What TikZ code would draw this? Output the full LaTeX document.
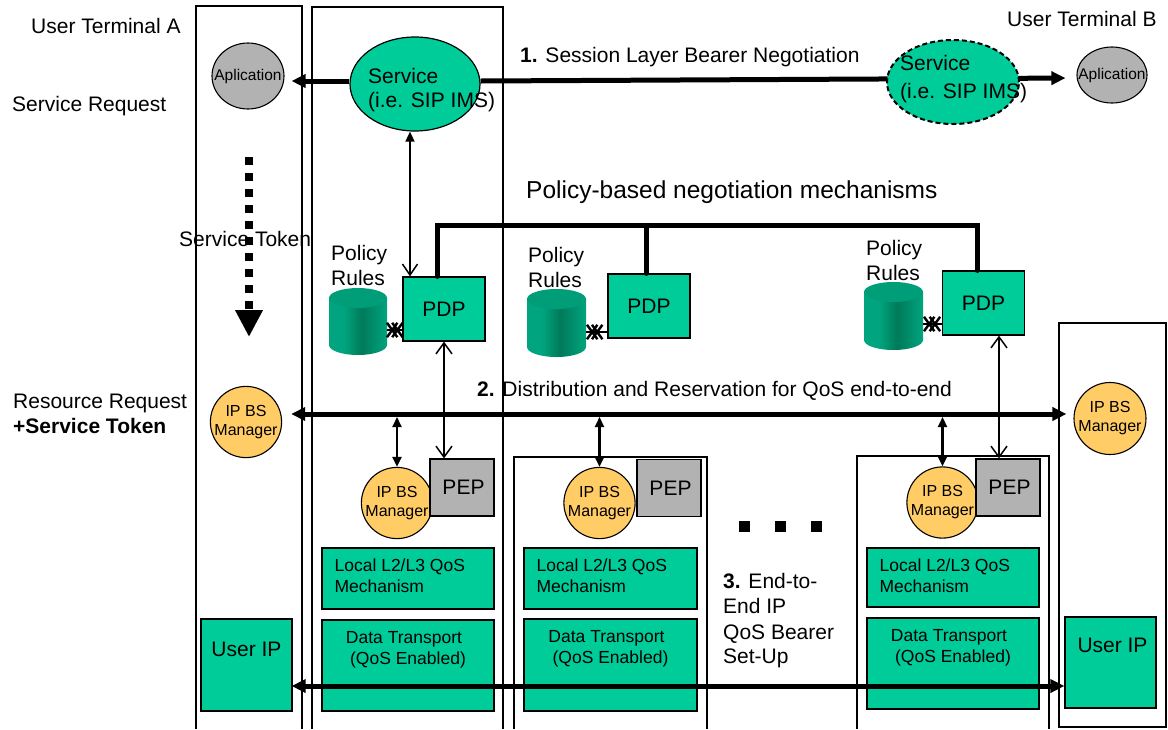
\documentclass[tikz,border=0pt]{standalone}
\usepackage{fontspec}
\setmainfont{Liberation Sans}
\usetikzlibrary{arrows.meta,shapes.geometric,shapes.misc,calc,backgrounds}

\definecolor{qgreen}{HTML}{00CC99}
\definecolor{qgray}{HTML}{B2B2B2}
\definecolor{qorange}{HTML}{FFCC66}
\definecolor{dbtop}{HTML}{009E78}
\definecolor{dblight}{HTML}{00A47E}
\definecolor{dbdark}{HTML}{007A5A}

% body of the policy database cylinders (dark band right of the middle)
\pgfdeclarehorizontalshading{dbbody}{100bp}{color(0bp)=(dblight); color(25bp)=(dblight);
  color(38bp)=(dblight); color(53bp)=(dbdark); color(75bp)=(dblight); color(100bp)=(dblight)}

% policy database: name, centre x, x radius, top y, bottom y
\newcommand\policydb[5]{%
  \shade[shading=dbbody] (#2-#3,#4+10) -- (#2-#3,#5-10)
     arc[start angle=180,end angle=0,x radius=#3,y radius=10] -- (#2+#3,#4+10) -- cycle;
  \fill[dbtop] (#2,#4+10) ellipse[x radius=#3,y radius=10];
  \node[inner sep=0pt,minimum width=2*#3 pt,minimum height=#5-#4 pt] (#1) at (#2,{(#4+#5)/2}) {};
}

\tikzset{
  txt/.style={inner sep=0pt,font=\fontsize{21}{25}\selectfont},
  bigtxt/.style={inner sep=0pt,font=\fontsize{24.5}{29}\selectfont},
  midtxt/.style={inner sep=0pt,font=\fontsize{17.5}{21}\selectfont},
  smalltxt/.style={font=\fontsize{16}{19}\selectfont},
  frame/.style={line width=1.2pt},
  appl/.style={ellipse,draw,line width=1.1pt,fill=qgray,inner sep=0pt,
    font=\fontsize{15.5}{18}\selectfont},
  svc/.style={ellipse,draw,line width=1.2pt,fill=qgreen,inner sep=0pt,
    minimum width=130pt,minimum height=94pt},
  pdpbox/.style={draw,line width=1.2pt,fill=qgreen,inner sep=0pt,
    minimum width=82pt,minimum height=64pt,txt},
  pepbox/.style={draw,line width=1.2pt,fill=qgray,inner sep=0pt,
    minimum width=64pt,minimum height=57pt,txt},
  ipbs/.style={circle,draw,line width=1.1pt,fill=qorange,inner sep=0pt,
    minimum size=70pt,align=center,smalltxt},
  gbox/.style={draw,line width=1.2pt,fill=qgreen,inner sep=0pt},
  xcross/.style={cross out,draw,line width=2.4pt,minimum width=8pt,
    minimum height=12pt,inner sep=0pt},
  bigarrow/.style={line width=5pt,
    {Triangle[length=14pt,width=13pt]}-{Triangle[length=14pt,width=13pt]}},
  bigtip/.style={line width=5pt,-{Triangle[length=14pt,width=13pt]}},
  tiparrow/.style={line width=2.2pt,
    {Triangle[length=10pt,width=9pt]}-{Triangle[length=10pt,width=9pt]}},
  barbarrow/.style={line width=1.5pt,
    {Straight Barb[length=11pt,width=16pt]}-{Straight Barb[length=11pt,width=16pt]}},
  svcarrow/.style={line width=1.5pt,
    {Triangle[length=10pt,width=9pt]}-{Straight Barb[length=11pt,width=15pt]}},
  bus/.style={line width=5pt,line cap=round,line join=miter},
}

\begin{document}
\begin{tikzpicture}[x=1pt,y=-1pt]
\useasboundingbox (0,0) rectangle (1168,729);

% ---------- columns and domains ----------
\draw[frame] (196,729) |- (302,6) -- (302,729);
\draw[frame] (312,729) |- (503,7) -- (503,729);
\draw[frame] (514,729) |- (707,457) -- (707,729);
\draw[frame] (857,729) |- (1049,456) -- (1049,729);
\draw[frame] (1059,323) rectangle (1166,727);

% ---------- side labels ----------
\node[txt,anchor=base west] (termA) at (31,33) {User Terminal A};
\node[txt,anchor=base west] (termB) at (1007,26) {User Terminal B};
\node[txt,anchor=base west] (sreq) at (12,111) {Service Request};
\node[txt,anchor=base west] (rreq) at (13,408) {Resource Request};
\node[txt,anchor=base west] (rtok) at (13,433) {\textbf{+Service Token}};

% ---------- session layer ----------
\node[appl,minimum width=72pt,minimum height=66pt] (appA) at (248,76) {\makebox[0pt]{Aplication}};
\node[svc] (svcA) at (415,84) {};
\node[txt,anchor=base west] (svcAa) at (368,83) {Service};
\node[txt,anchor=base west] (svcAb) at (368,107) {(i.e. SIP IMS)};
\node[svc,dash pattern=on 5pt off 3pt,line width=2pt,minimum width=132pt,
  minimum height=84pt] (svcB) at (953,82) {};
\node[txt,anchor=base west] (svcBa) at (900,70) {Service};
\node[txt,anchor=base west] (svcBb) at (900,98) {(i.e. SIP IMS)};
\node[appl,minimum width=70pt,minimum height=56pt] (appB) at (1112,75) {\makebox[0pt]{Aplication}};

\begin{pgfonlayer}{background}
  \draw[bigtip,shorten >=7pt] (svcA.west |- 0,81) -- (appA.east |- 0,81);
  \draw[bigtip,shorten >=11pt] (svcA.east |- 0,81) -- (appB.west |- 0,78);
\end{pgfonlayer}
\node[txt,anchor=base west] (lab1) at (520,62) {\textbf{1.} Session Layer Bearer Negotiation};

% ---------- service token ----------
\coordinate (tokS) at (249,157);
\coordinate (tokE) at (249,337);
\draw[line width=8pt,dash pattern=on 8pt off 8pt,-{Triangle[length=27pt,width=26pt]}]
  (tokS) -- (tokE);
\node[txt,anchor=base west] (tok) at (179,246) {Service Token};

% ---------- policy layer ----------
\node[bigtxt,anchor=base west] (lab0) at (526,198) {Policy-based negotiation mechanisms};

\node[pdpbox] (pdp1) at (444,309) {PDP};
\node[pdpbox] (pdp2) at (649,306) {PDP};
\node[pdpbox] (pdp3) at (983.5,303) {PDP};

\policydb{db1}{358}{29}{288}{355}
\policydb{db2}{556.5}{29.5}{289}{357}
\policydb{db3}{893.5}{29.5}{282}{350}

\node[txt,anchor=base west] (pr1a) at (331,260) {Policy};
\node[txt,anchor=base west] (pr1b) at (331,285) {Rules};
\node[txt,anchor=base west] (pr2a) at (528,262) {Policy};
\node[txt,anchor=base west] (pr2b) at (528,287) {Rules};
\node[txt,anchor=base west] (pr3a) at (866,255) {Policy};
\node[txt,anchor=base west] (pr3b) at (866,280) {Rules};

% database to PDP links
\draw[line width=1.5pt] (db1.east |- 0,330) -- (pdp1.west |- 0,330);
\node[xcross] (x1a) at ($(db1.east |- 0,330)+(5,0)$) {};
\node[xcross] (x1b) at ($(pdp1.west |- 0,330)+(-5,0)$) {};
\draw[line width=1.5pt] (db2.east |- 0,332) -- (pdp2.west |- 0,332);
\node[xcross] (x2a) at ($(db2.east |- 0,332)+(6,0)$) {};
\node[xcross] (x2b) at ($(db2.east |- 0,332)+(11,0)$) {};
\draw[line width=1.5pt] (db3.east |- 0,324) -- (pdp3.west |- 0,324);
\node[xcross] (x3a) at ($(db3.east |- 0,324)+(6,0)$) {};
\node[xcross] (x3b) at ($(pdp3.west |- 0,324)+(-7,0)$) {};

% PDP interconnection
\draw[bus] ([xshift=-7pt]pdp1.north) -- ++(0,-51) -| ([xshift=-6.5pt]pdp3.north);
\draw[bus] ([xshift=-3pt]pdp2.north) -- ([xshift=-3pt]pdp2.north |- 0,226);

% service to PDP
\draw[svcarrow] ([xshift=-5pt]svcA.south) -- ([xshift=-5pt]svcA.south |- pdp1.north);

% ---------- resource layer ----------
\node[ipbs] (ipbsA) at (246,422) {IP BS\\Manager};
\node[ipbs,minimum size=72pt] (ipbsB) at (1110,418.5) {IP BS\\Manager};

\node[ipbs] (ipbs1) at (397,503) {IP BS\\Manager};
\node[ipbs] (ipbs2) at (599.5,503) {IP BS\\Manager};
\node[ipbs] (ipbs3) at (942.5,502.5) {IP BS\\Manager};
\node[pepbox] (pep1) at (462,487.5) {\hspace{3pt}PEP};
\node[pepbox] (pep2) at (669,488) {\hspace{3pt}PEP};
\node[pepbox] (pep3) at (1008,487.5) {\hspace{3pt}PEP};

\draw[bigarrow,shorten <=9pt,shorten >=7pt] (ipbsA.east |- 0,414) -- (ipbsB.west |- 0,414);
\node[txt,anchor=base west] (lab2) at (477,396)
  {\textbf{2.} Distribution and Reservation for QoS end-to-end};

\draw[tiparrow] (ipbs1.north |- 0,417) -- (ipbs1.north);
\draw[tiparrow] (ipbs2.north |- 0,417) -- (ipbs2.north);
\draw[tiparrow] (ipbs3.north |- 0,417) -- (ipbs3.north);

\draw[barbarrow] (pdp1.south) -- (pdp1.south |- pep1.north);
\draw[barbarrow] ([xshift=15.5pt]pdp3.south) -- ([xshift=15.5pt]pdp3.south |- pep3.north);

% local QoS mechanisms and data transport
\node[gbox,minimum width=172pt,minimum height=61pt] (loc1) at (408,578.5) {};
\node[gbox,minimum width=173pt,minimum height=61pt] (loc2) at (610.5,578.5) {};
\node[gbox,minimum width=172pt,minimum height=59pt] (loc3) at (953,577.5) {};
\foreach \b in {loc1,loc2,loc3}{
  \node[midtxt,anchor=base west] at ($(\b.north west)+(13,24)$) {Local L2/L3 QoS};
  \node[midtxt,anchor=base west] at ($(\b.north west)+(13,45)$) {Mechanism};
}

\node[gbox,minimum width=172pt,minimum height=91pt] (dat1) at (408,665.5) {};
\node[gbox,minimum width=173pt,minimum height=92pt] (dat2) at (610.5,665) {};
\node[gbox,minimum width=172pt,minimum height=91pt] (dat3) at (953,663.5) {};
\foreach \b in {dat1,dat2,dat3}{
  \node[midtxt,anchor=base] at ($(\b.north)+(-4,24)$) {Data Transport};
  \node[midtxt,anchor=base] at ($(\b.north)+(0,45)$) {(QoS Enabled)};
}

\node[gbox,minimum width=91pt,minimum height=92pt] (userA) at (246.5,665) {};
\node[gbox,minimum width=91pt,minimum height=91pt] (userB) at (1110.5,662.5) {};
\node[txt,anchor=base] (userAt) at ($(userA.north)+(0,38)$) {User IP};
\node[txt,anchor=base] (userBt) at ($(userB.north)+(2,36)$) {User IP};

% continuation marks between domains
\foreach \x in {744,780,816}{
  \fill (\x-5.5,520.5) rectangle (\x+5.5,531.5);
}

\node[txt,anchor=base west] (lab3a) at (723,588) {\textbf{3.} End-to-};
\node[txt,anchor=base west] (lab3b) at (723,613) {End IP};
\node[txt,anchor=base west] (lab3c) at (723,639) {QoS Bearer};
\node[txt,anchor=base west] (lab3d) at (723,663) {Set-Up};

% end-to-end bearer
\draw[bigarrow,shorten <=-1pt] (userA.east |- 0,686) -- (userB.west |- 0,686);
\end{tikzpicture}
\end{document}
